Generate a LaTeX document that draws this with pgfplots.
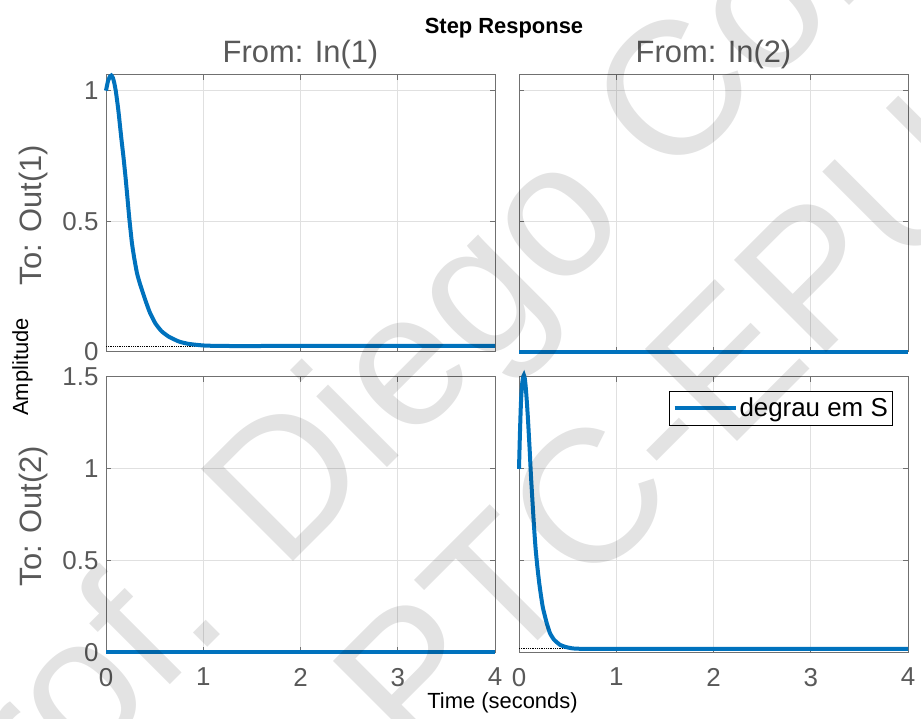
\documentclass[border=0pt]{standalone}
\usepackage{fontspec}
\setmainfont{Liberation Sans}
\usepackage{pgfplots}
\pgfplotsset{compat=1.18}
\definecolor{mblue}{HTML}{0072BD}
\definecolor{framegray}{HTML}{707070}
\definecolor{txtgray}{HTML}{595959}
\definecolor{gridgray}{HTML}{E0E0E0}
\newcommand{\fs}[1]{\fontsize{#1}{#1}\selectfont}
\pgfplotsset{
  base/.style={scale only axis, width=389bp, xmin=0, xmax=4, xtick={0,1,2,3,4},
    grid=major, grid style={gridgray, line width=1bp},
    axis line style={framegray, line width=1bp},
    tick style={framegray, line width=1bp}, tick align=inside, major tick length=5bp,
    ticklabel style={font=\fs{26}, text=txtgray},
    /pgf/number format/assume math mode=true, clip=false,
    xticklabel style={yshift=-12bp}, yticklabel style={xshift=-4bp}},
  rowtop/.style={height=277bp, ymin=0, ymax=1.06, ytick={0,0.5,1}, xticklabels={}},
  rowbot/.style={height=275.5bp, ymin=0, ymax=1.5, ytick={0,0.5,1,1.5}},
  colright/.style={yticklabels={}},
  curve/.style={mblue, line width=4bp},
  ss/.style={black, densely dotted, line width=0.8bp, forget plot},
}
\begin{document}
\begin{tikzpicture}
\useasboundingbox (0bp,0bp) rectangle (921bp,719bp);
% top-left
\begin{axis}[base, rowtop, at={(106bp,367bp)}, anchor=south west]
\addplot[ss] coordinates {(0,0.023) (4,0.023)};
\addplot[curve, smooth, tension=0.3] coordinates {
(0,1.0) (0.02,1.036) (0.04,1.054) (0.055,1.058) (0.07,1.05) (0.085,1.03) (0.10,1.0)
(0.115,0.96) (0.13,0.915) (0.145,0.862) (0.16,0.81) (0.18,0.745) (0.20,0.672)
(0.216,0.608) (0.24,0.51) (0.267,0.416) (0.29,0.36) (0.319,0.301) (0.35,0.26)
(0.404,0.199) (0.45,0.152) (0.507,0.110) (0.57,0.08) (0.644,0.059) (0.75,0.04)
(0.85,0.031) (1.0,0.025) (1.2,0.023) (2,0.023) (4,0.023)};
\end{axis}
% top-right
\begin{axis}[base, rowtop, colright, at={(519bp,367bp)}, anchor=south west]
\addplot[curve] coordinates {(0,0) (4,0)};
\end{axis}
% bottom-left
\begin{axis}[base, rowbot, at={(106bp,66.5bp)}, anchor=south west]
\addplot[curve] coordinates {(0,0) (4,0)};
\end{axis}
% bottom-right
\begin{axis}[base, rowbot, colright, at={(519bp,66.5bp)}, anchor=south west,
  legend style={at={(0.962,0.95)}, anchor=north east, draw=black, line width=0.8bp,
    fill=white, font=\fs{26}, inner xsep=3bp, inner ysep=5bp, nodes={inner sep=2bp}},
  legend image code/.code={\draw[#1, line width=4bp] (0bp,0bp) -- (61bp,0bp);}]
\addplot[ss] coordinates {(0,0.02) (4,0.02)};
\addplot[curve, smooth, tension=0.3] coordinates {
(0,1.0) (0.01,1.2) (0.02,1.36) (0.03,1.45) (0.04,1.495) (0.05,1.51) (0.06,1.49)
(0.07,1.44) (0.08,1.37) (0.09,1.29) (0.096,1.235) (0.11,1.1) (0.123,0.962) (0.14,0.81)
(0.154,0.689) (0.17,0.57) (0.188,0.47) (0.21,0.37) (0.243,0.251) (0.28,0.17)
(0.318,0.106) (0.36,0.07) (0.421,0.042) (0.48,0.03) (0.558,0.022) (0.7,0.02) (2,0.02) (4,0.02)};
\addlegendentry{degrau em S}
\end{axis}
% titles and labels
\node[anchor=base, font=\bfseries\fs{22}] at (504bp,685bp) {Step Response};
\node[anchor=base, font=\fs{31}, text=txtgray] at (300.5bp,656bp) {From: In(1)};
\node[anchor=base, font=\fs{31}, text=txtgray] at (713.5bp,656bp) {From: In(2)};
\node[anchor=base, rotate=90, font=\fs{31}, text=txtgray] at (41.7bp,504bp) {To: Out(1)};
\node[anchor=base, rotate=90, font=\fs{31}, text=txtgray] at (41.7bp,203bp) {To: Out(2)};
\node[anchor=base, rotate=90, font=\fs{22}] at (28bp,352bp) {Amplitude};
\node[anchor=base, font=\fs{22}] at (502.5bp,11bp) {Time (seconds)};
% watermark
\begin{scope}
\clip (0bp,0bp) rectangle (921bp,719bp);
\node[rotate=45, anchor=base west, text opacity=0.11, font=\fs{190}, inner sep=0pt] at (-50bp,-186bp) {Prof. Diego Colón};
\node[rotate=45, anchor=base west, text opacity=0.11, font=\fs{190}, inner sep=0pt] at (414bp,-46bp) {PTC-EPUSP};
\end{scope}
\end{tikzpicture}
\end{document}
